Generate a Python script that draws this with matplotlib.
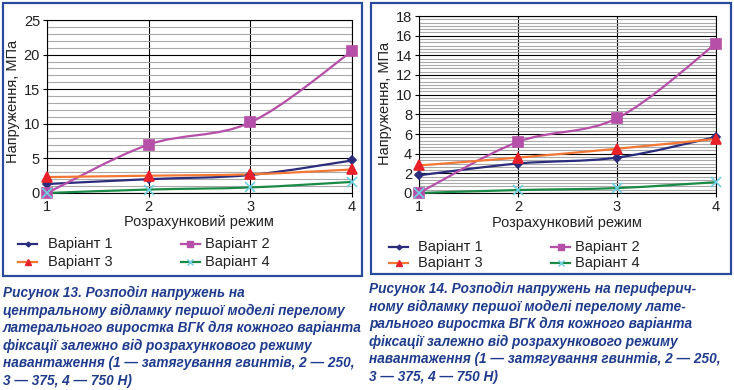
import matplotlib
matplotlib.use("Agg")
import matplotlib.pyplot as plt
from matplotlib.path import Path
from matplotlib.patches import PathPatch, Rectangle
from matplotlib.lines import Line2D
from matplotlib.ticker import MultipleLocator
import numpy as np

plt.rcParams['font.family'] = ['Liberation Sans', 'DejaVu Sans']

# ---------------- data ----------------
modes = [1, 2, 3, 4]
series_names = ["Варіант 1", "Варіант 2", "Варіант 3", "Варіант 4"]

left_v1 = [1.3, 2.0, 2.6, 4.7]
left_v2 = [0.0, 7.0, 10.2, 20.5]
left_v3 = [2.3, 2.5, 2.7, 3.4]
left_v4 = [0.0, 0.5, 0.8, 1.6]

right_v1 = [1.8, 3.0, 3.6, 5.7]
right_v2 = [0.0, 5.2, 7.6, 15.2]
right_v3 = [2.8, 3.6, 4.5, 5.5]
right_v4 = [0.0, 0.3, 0.5, 1.1]

xlabel = "Розрахунковий режим"
ylabel = "Напруження, МПа"

left_caption = [
    "Рисунок 13. Розподіл напружень на",
    "центральному відламку першої моделі перелому",
    "латерального виростка ВГК для кожного варіанта",
    "фіксації залежно від розрахункового режиму",
    "навантаження (1 — затягування гвинтів, 2 — 250,",
    "3 — 375, 4 — 750 Н)",
]
right_caption = [
    "Рисунок 14. Розподіл напружень на периферич-",
    "ному відламку першої моделі перелому лате-",
    "рального виростка ВГК для кожного варіанта",
    "фіксації залежно від розрахункового режиму",
    "навантаження (1 — затягування гвинтів, 2 — 250,",
    "3 — 375, 4 — 750 Н)",
]

# ---------------- styles ----------------
line_colors = ["#2b2d7c", "#b64fa8", "#f37836", "#1c8a47"]
marker_colors = ["#2b2d7c", "#b64fa8", "#e8202a", "#6fd0e2"]
markers = ["D", "s", "^", "x"]
marker_sizes = [4.5, 7, 7, 7]

W, H = 734, 390
fig = plt.figure(figsize=(W / 100, H / 100), dpi=100)
fig.patch.set_facecolor("white")
BLUE = "#2a4a9c"
CAP = "#1f3c8c"


def px_rect(x0, y0, x1, y1):
    return [x0 / W, 1 - y1 / H, (x1 - x0) / W, (y1 - y0) / H]


def smooth_path(xs, ys):
    pts = np.column_stack([xs, ys]).astype(float)
    n = len(pts)
    verts = [pts[0]]
    codes = [Path.MOVETO]
    for i in range(n - 1):
        p0 = pts[i - 1] if i > 0 else pts[i]
        p1 = pts[i]
        p2 = pts[i + 1]
        p3 = pts[i + 2] if i + 2 < n else pts[i + 1]
        c1 = p1 + (p2 - p0) / 6.0
        c2 = p2 - (p3 - p1) / 6.0
        verts += [c1, c2, p2]
        codes += [Path.CURVE4] * 3
    return Path(verts, codes)


def draw_panel(rect, series, ymax, major, minor):
    ax = fig.add_axes(rect)
    ax.set_xlim(1, 4)
    ax.set_ylim(0, ymax)
    ax.xaxis.set_major_locator(MultipleLocator(1))
    ax.yaxis.set_major_locator(MultipleLocator(major))
    ax.yaxis.set_minor_locator(MultipleLocator(minor))
    ax.grid(which="minor", axis="y", color="#a9a9a9", lw=0.8)
    ax.grid(which="major", axis="both", color="black", lw=0.8)
    ax.set_axisbelow(True)
    for s in ax.spines.values():
        s.set_color("black")
        s.set_linewidth(0.8)
    ax.tick_params(which="major", length=3, width=0.8, labelsize=10.5, pad=2,
                   colors="black", labelcolor="#222222")
    ax.tick_params(which="minor", length=0)
    for i, ys in enumerate(series):
        ax.add_patch(PathPatch(smooth_path(modes, ys), fill=False,
                               edgecolor=line_colors[i], lw=1.6, zorder=3,
                               clip_on=False))
        ax.plot(modes, ys, ls="none", marker=markers[i], ms=marker_sizes[i],
                color=marker_colors[i], mec=marker_colors[i], mew=1.2,
                zorder=4, clip_on=False)
    return ax


def legend_entry(x_handle, y, i, x_text):
    fig.add_artist(Line2D([x_handle / W, (x_handle + 19) / W], [1 - y / H, 1 - y / H],
                          color=line_colors[i], lw=1.6))
    fig.add_artist(Line2D([(x_handle + 9.5) / W], [1 - y / H], ls="none",
                          marker=markers[i], ms=marker_sizes[i] * 0.55,
                          color=marker_colors[i], mec=marker_colors[i], mew=1.0))
    fig.text(x_text / W, 1 - y / H, series_names[i], fontsize=10.5,
             color="#222222", va="center", ha="left")


# ---------- left panel ----------
fig.add_artist(Rectangle((3 / W, 1 - 276 / H), (362 - 3) / W, (276 - 3) / H,
                         transform=fig.transFigure, fill=False,
                         edgecolor=BLUE, lw=1.6))
draw_panel(px_rect(47, 20, 352, 193), [left_v1, left_v2, left_v3, left_v4],
           25, 5, 1)
fig.text(13 / W, 1 - 101 / H, ylabel, rotation=90, fontsize=10.5,
         color="#222222", ha="center", va="center")
fig.text(199 / W, 1 - 222 / H, xlabel, fontsize=10.5, color="#222222",
         ha="center", va="center")
legend_entry(18, 244, 0, 48)
legend_entry(181, 244, 1, 205)
legend_entry(18, 262, 2, 48)
legend_entry(181, 262, 3, 205)
for k, line in enumerate(left_caption):
    fig.text(3 / W, 1 - (293 + k * 17.6) / H, line, fontsize=9.8,
             fontweight="bold", fontstyle="italic", color=CAP,
             ha="left", va="center")

# ---------- right panel ----------
fig.add_artist(Rectangle((371 / W, 1 - 274 / H), (731 - 371) / W, (274 - 3) / H,
                         transform=fig.transFigure, fill=False,
                         edgecolor=BLUE, lw=1.6))
draw_panel(px_rect(419, 16, 716, 193), [right_v1, right_v2, right_v3, right_v4],
           18, 2, 1 / 3)
fig.text(385 / W, 1 - 103 / H, ylabel, rotation=90, fontsize=10.5,
         color="#222222", ha="center", va="center")
fig.text(567 / W, 1 - 223 / H, xlabel, fontsize=10.5, color="#222222",
         ha="center", va="center")
legend_entry(389, 247, 0, 418)
legend_entry(551, 247, 1, 575)
legend_entry(389, 263, 2, 418)
legend_entry(551, 263, 3, 575)
for k, line in enumerate(right_caption):
    fig.text(369 / W, 1 - (289 + k * 17.6) / H, line, fontsize=9.8,
             fontweight="bold", fontstyle="italic", color=CAP,
             ha="left", va="center")

fig.savefig("out.png", dpi=100, facecolor="white")
